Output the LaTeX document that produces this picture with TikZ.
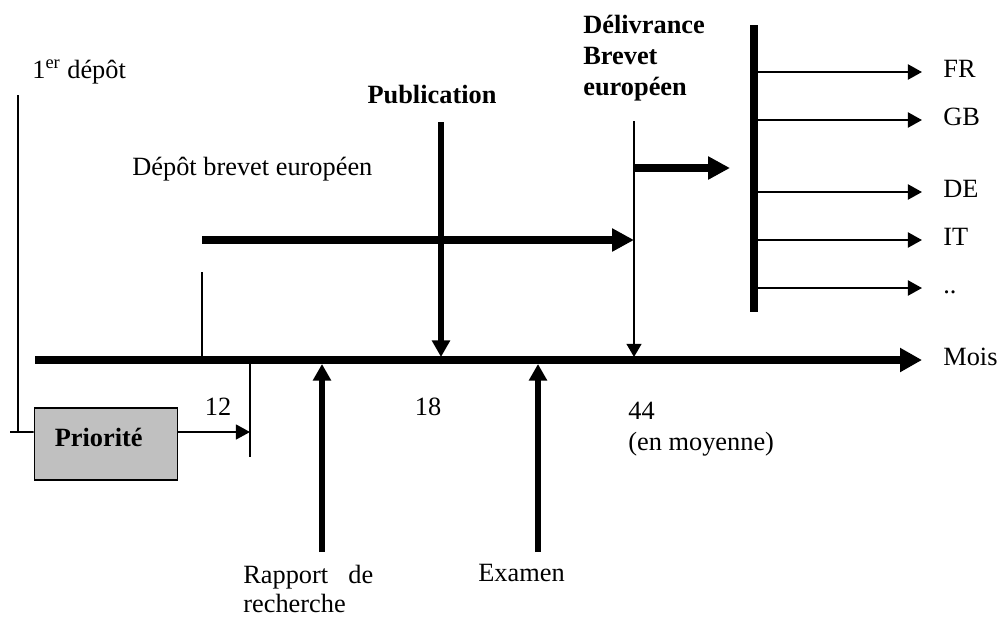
\documentclass[tikz,border=0pt]{standalone}
\usepackage{fontspec}
\setmainfont{Liberation Serif}
\usetikzlibrary{arrows.meta,positioning}
\definecolor{boxgray}{RGB}{192,192,192}
\newcommand{\txtsize}{\fontsize{15}{17.5}\selectfont}
\tikzset{
    >={Triangle[length=8pt,width=8.5pt]},
    lbl/.style={inner sep=0pt, text height=1.5ex, text depth=.25ex},
    lbls/.style={inner sep=0pt, align=left},
    thinline/.style={line width=0.9pt},
    country/.style={line width=1.3pt, ->},
    timeaxis/.style={line width=4.5pt, -{Triangle[length=12.5pt,width=13pt]}},
    bigarrow/.style={line width=4pt, -{Triangle[length=12.5pt,width=12.5pt]}},
    event/.style={line width=3.4pt, -{Triangle[length=9.5pt,width=10pt]}},
    priobox/.style={rectangle, draw, line width=0.9pt, fill=boxgray, minimum width=2.86cm, minimum height=1.44cm,
        font=\txtsize\bfseries, text depth=8pt, text width=2.05cm, align=left}
}

\begin{document}
\begin{tikzpicture}[x=0.02cm, y=-0.02cm, font=\txtsize]
    \useasboundingbox (0,0) rectangle (999,619);

    \coordinate (start) at (35,360);
    \node[lbl, anchor=west] (mois) at (943,360) {Mois};
    \draw[timeaxis] (start) -- ([xshift=-0.42cm]mois.west);

    \node[priobox] (prio) at (106,444) {Priorité};
    \node[lbl, anchor=west] (first) at (32,73) {1\textsuperscript{er} dépôt};
    \coordinate (firsttop) at (18,95);
    \coordinate (firstfoot) at (10,432);
    \coordinate (prioin) at ([yshift=0.24cm]prio.west);
    \coordinate (prioout) at ([yshift=0.24cm]prio.east);
    \draw[thinline] (firsttop) -- (firsttop |- firstfoot);
    \draw[thinline] (firstfoot) -- (prioin);

    \coordinate (m12top) at (250,363);
    \coordinate (m12foot) at (250,457);
    \draw[thinline] (m12top) -- (m12foot);
    \draw[thinline, ->] (prioout) -- (prioout -| m12top);
    \node[lbl] (m12) at (218,410) {12};

    \node[lbl, anchor=west] (depot) at (132,170) {Dépôt brevet européen};
    \coordinate (deptop) at (202,272);
    \coordinate (epstart) at (202,240);
    \draw[thinline] (deptop) -- (202,357);

    \node[lbl, font=\txtsize\bfseries] (pub) at (432,98) {Publication};
    \coordinate (pubtop) at (441,122);
    \coordinate (pubfoot) at (441,357);
    \draw[event] (pubtop) -- (pubfoot);
    \node[lbl] (m18) at (428,410) {18};

    \node[lbls, anchor=west, font=\txtsize\bfseries] (grant) at (583,58) {Délivrance\\Brevet\\européen};
    \coordinate (granttop) at (634,121);
    \coordinate (grantfoot) at (634,357);
    \draw[thinline, ->, >={Triangle[length=7.5pt,width=8.5pt]}] (granttop) -- (grantfoot);
    \draw[bigarrow] (epstart) -- (epstart -| granttop);
    \node[lbls, anchor=north west] (m44) at (628,402) {44\\(en moyenne)};

    \coordinate (natstart) at (634,168);
    \coordinate (natend) at (730,168);
    \draw[bigarrow] (natstart) -- (natend);

    \coordinate (bartop) at (754,25);
    \coordinate (barfoot) at (754,312);
    \draw[line width=4.5pt] (bartop) -- (barfoot);

    \node[lbl, anchor=west] (fr) at (943,72) {FR};
    \node[lbl, anchor=west] (gb) at (943,120) {GB};
    \node[lbl, anchor=west] (de) at (943,192) {DE};
    \node[lbl, anchor=west] (it) at (943,240) {IT};
    \node[lbl, anchor=west] (etc) at (943,288) {..};
    \draw[country, shorten >=0.42cm] (bartop |- fr) -- (fr.west);
    \draw[country, shorten >=0.42cm] (bartop |- gb) -- (gb.west);
    \draw[country, shorten >=0.42cm] (bartop |- de) -- (de.west);
    \draw[country, shorten >=0.42cm] (bartop |- it) -- (it.west);
    \draw[country, shorten >=0.42cm] (bartop |- etc) -- (etc.west);

    \coordinate (rapfoot) at (322,552);
    \coordinate (rapend) at (322,364);
    \draw[event] (rapfoot) -- (rapend);
    \node[lbls, anchor=north west, text width=2.6cm, align=justify, font=\fontsize{15}{16.5}\selectfont] (rapport) at (243,565) {Rapport de recherche};

    \coordinate (examfoot) at (538,552);
    \coordinate (examend) at (538,364);
    \draw[event] (examfoot) -- (examend);
    \node[lbl, anchor=west] (examen) at (478,576) {Examen};
\end{tikzpicture}
\end{document}
